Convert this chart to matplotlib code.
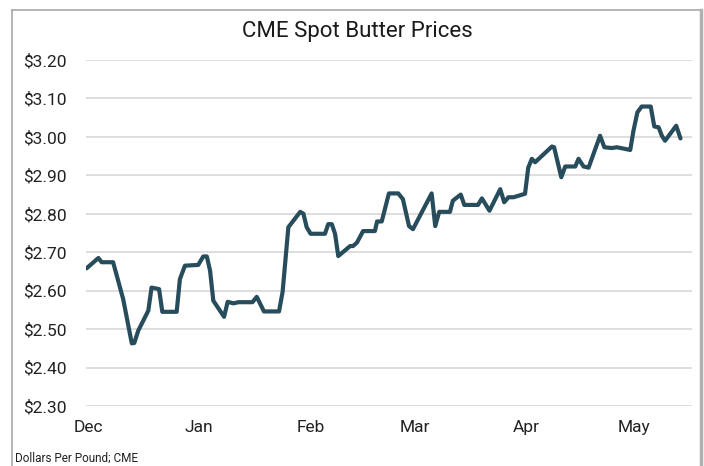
import matplotlib
matplotlib.use("Agg")
import matplotlib.pyplot as plt
from matplotlib.lines import Line2D

# days since Dec 1
days = [-0.4, 2.9, 3.8, 7.0, 9.8, 12.2, 12.9, 14.0, 16.8, 17.7, 19.8, 20.7, 24.7, 25.6, 27.0,
        30.7, 32.1, 33.1, 34.0, 34.9, 37.9, 38.9, 40.5, 41.9, 45.8, 47.0, 49.0, 53.2, 54.2,
        55.8, 59.1, 60.0, 60.9, 62.0, 66.0, 66.9, 67.9, 68.8, 69.7, 73.0, 73.8, 74.9, 76.6,
        79.9, 80.5, 81.8, 83.8, 86.4, 87.7, 89.4, 90.5, 95.7, 96.7, 97.8, 100.8, 101.6, 103.8,
        104.8, 108.6, 109.7, 111.8, 114.8, 115.9, 117.1, 118.5, 121.7, 122.6, 123.6, 124.5,
        129.2, 129.8, 131.8, 132.9, 135.7, 136.6, 138.0, 139.4, 142.6, 143.8, 145.9, 147.3,
        151.0, 151.9, 153.0, 154.2, 156.7, 157.7, 158.9, 159.8, 160.7, 163.8, 165.0]
prices = [2.658, 2.685, 2.674, 2.674, 2.578, 2.463, 2.464, 2.496, 2.548, 2.608, 2.604, 2.545,
          2.545, 2.630, 2.665, 2.667, 2.689, 2.689, 2.652, 2.574, 2.532, 2.571, 2.567, 2.570,
          2.570, 2.584, 2.546, 2.546, 2.597, 2.765, 2.805, 2.800, 2.765, 2.748, 2.748, 2.773,
          2.773, 2.748, 2.690, 2.716, 2.716, 2.725, 2.755, 2.755, 2.780, 2.780, 2.853, 2.853,
          2.838, 2.768, 2.760, 2.853, 2.768, 2.805, 2.805, 2.834, 2.850, 2.823, 2.823, 2.840,
          2.808, 2.864, 2.830, 2.843, 2.843, 2.852, 2.920, 2.943, 2.934, 2.975, 2.973, 2.895,
          2.923, 2.923, 2.943, 2.923, 2.920, 3.003, 2.973, 2.971, 2.973, 2.966, 3.016, 3.064,
          3.079, 3.079, 3.027, 3.025, 3.003, 2.990, 3.029, 2.996]

month_labels = ["Dec", "Jan", "Feb", "Mar", "Apr", "May"]
month_pos = [0, 31, 62, 91, 122, 152]
y_ticks = [2.30, 2.40, 2.50, 2.60, 2.70, 2.80, 2.90, 3.00, 3.10, 3.20]

plt.rcParams['font.family'] = ['Roboto', 'DejaVu Sans']

fig = plt.figure(figsize=(7.04, 4.66), dpi=100)
ax = fig.add_axes([86/704, 1-406/466, (692-86)/704, (406-60)/466])

ax.plot(days, prices, color="#274c5b", lw=3.0, solid_joinstyle="round", solid_capstyle="round", zorder=3)

ax.set_ylim(2.30, 3.20)
ax.set_xlim(-0.55, 168.2)
ax.set_yticks(y_ticks)
ax.set_yticklabels([f"${v:.2f}" for v in y_ticks], fontsize=12.5, color="#222222")
ax.set_xticks(month_pos)
ax.set_xticklabels(month_labels, fontsize=12.5, color="#222222")
ax.tick_params(axis="both", length=0)
ax.tick_params(axis="y", pad=14)
ax.tick_params(axis="x", pad=10)
ax.grid(axis="y", color="#d4d4d4", lw=1.1)
ax.set_axisbelow(True)
for s in ax.spines.values():
    s.set_visible(False)

fig.text(357/704, 1-31/466, "CME Spot Butter Prices", ha="center", va="center",
         fontsize=16, color="#1a1a1a", family=["Liberation Sans Narrow", "Roboto", "DejaVu Sans"])
fig.text(15/704, 1-458/466, "Dollars Per Pound; CME", ha="left", va="center",
         fontsize=8.5, color="#222222", family=["Liberation Sans Narrow", "Roboto", "DejaVu Sans"])

# frame
fig.add_artist(Line2D([12/704, 12/704], [0, 1-10/466], transform=fig.transFigure, color="#a8a8a8", lw=1.2))
fig.add_artist(Line2D([12/704, 701/704], [1-10/466, 1-10/466], transform=fig.transFigure, color="#a8a8a8", lw=1.2))
fig.add_artist(Line2D([701/704, 701/704], [0, 1-10/466], transform=fig.transFigure, color="#b0b0b0", lw=2.5))

fig.savefig("out.png", dpi=100, facecolor="white")
